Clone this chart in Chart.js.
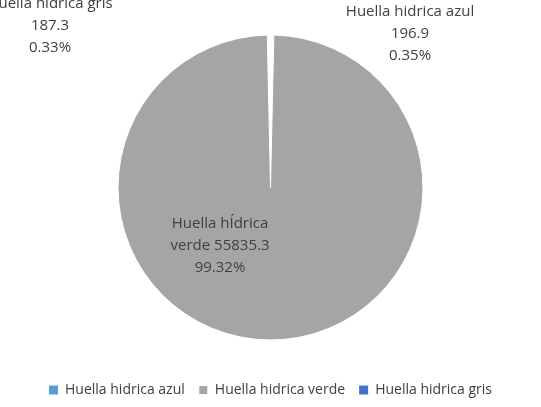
<!DOCTYPE html>
<html>
<head>
<meta charset="utf-8">
<script src="https://cdn.jsdelivr.net/npm/chart.js@4"></script>
<style>
  body { margin: 0; background: #fff; }
  #wrap { width: 541px; height: 407px; }
</style>
</head>
<body>
<div id="wrap"><canvas id="pie"></canvas></div>
<script>
const categories = ['Huella hidrica azul', 'Huella hidrica verde', 'Huella hidrica gris'];
const values = [196.9, 55835.3, 187.3];
const percents = ['0.35%', '99.32%', '0.33%'];
const labelLines = [
    ['Huella hidrica azul', '196.9', '0.35%'],
    ['Huella hÍdrica', 'verde 55835.3', '99.32%'],
    ['Huella hidrica gris', '187.3', '0.33%']
];
const labelSpots = [[410, 4], [220, 216], [50, -4]];

// --- Draw data labels at fixed spots ---
const labelPlugin = {
    id: 'labels',
    afterDraw(chart) {
        const ctx = chart.ctx;
        ctx.save();
        ctx.font = '15px "Open Sans", sans-serif';
        ctx.fillStyle = '#404040';
        ctx.textAlign = 'center';
        ctx.textBaseline = 'top';
        labelLines.forEach((lines, i) => {
            const [x, y] = labelSpots[i];
            lines.forEach((t, j) => ctx.fillText(t, x, y + j * 22));
        });
        ctx.restore();
    }
};

new Chart(document.getElementById('pie'), {
    type: 'pie',
    data: {
        labels: categories,
        datasets: [{
            data: values,
            backgroundColor: ['#5b9bd5', '#a5a5a5', '#4472c4'],
            borderColor: '#ffffff',
            borderWidth: [0, 1, 0],
            offset: [57, 0, 57]
        }]
    },
    options: {
        responsive: true,
        maintainAspectRatio: false,
        animation: false,
        layout: { padding: { top: 6, bottom: 0, left: 0, right: 0 } },
        plugins: {
            legend: {
                position: 'bottom',
                labels: {
                    boxWidth: 9,
                    boxHeight: 9,
                    padding: 14,
                    color: '#404040',
                    font: { size: 14, family: '"Open Sans", sans-serif' }
                }
            },
            tooltip: { enabled: false }
        }
    },
    plugins: [labelPlugin]
});
</script>
</body>
</html>
